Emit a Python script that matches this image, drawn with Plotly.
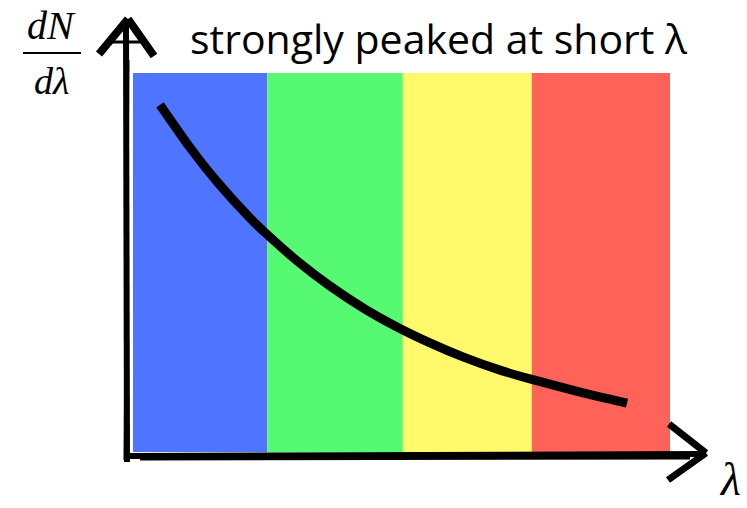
import plotly.graph_objects as go

# Spectral bands (wavelength in nm) and their fill colours
band_edges = [400, 500, 601, 697, 800]
band_colors = ["#4f74ff", "#55fa72", "#fffa6b", "#ff6258"]

# Photon spectrum dN/dλ, strongly peaked at short wavelength
wavelength = [420.1, 442.5, 462.6, 487.2, 498.3, 524.4, 546.7, 572.8,
              596.6, 621.2, 645.8, 673.4, 695.7, 733.0, 768.0]
dn_dlambda = [0.916, 0.803, 0.713, 0.617, 0.579, 0.498, 0.438, 0.377,
              0.330, 0.288, 0.251, 0.216, 0.193, 0.158, 0.129]

title_text = "strongly peaked at short λ"

W, H = 747, 508
L, R, T, B = 133, 77, 73, 56
PW, PH = W - L - R, H - T - B


def px(x):
    return (x - L) / PW


def py(y):
    return (H - B - y) / PH


fig = go.Figure()

for i, c in enumerate(band_colors):
    fig.add_shape(type="rect", xref="x", yref="y",
                  x0=band_edges[i], x1=band_edges[i + 1], y0=0, y1=1,
                  fillcolor=c, line_width=0, layer="below")

fig.add_trace(go.Scatter(x=wavelength, y=dn_dlambda, mode="lines",
                         line=dict(color="black", width=9, shape="spline", smoothing=0.6),
                         hoverinfo="skip", showlegend=False))

# hand-drawn style axes with arrow heads
axis_segments = [
    ((127, 462), (126, 24), 6),
    ((125, 460), (128, 60), 3),
    ((99, 54), (128, 19), 8),
    ((128, 19), (154, 56), 8),
    ((110, 42), (144, 42), 3),
    ((126, 456), (700, 454), 6),
    ((140, 459), (690, 458), 3),
    ((669, 424), (706, 453), 7),
    ((706, 453), (668, 480), 7),
    ((23, 53), (81, 53), 2),
]
for (x0, y0), (x1, y1), w in axis_segments:
    fig.add_shape(type="line", xref="paper", yref="paper",
                  x0=px(x0), y0=py(y0), x1=px(x1), y1=py(y1),
                  line=dict(color="black", width=w))

serif = "Liberation Serif"
fig.add_annotation(text="<i>dN</i>", x=px(51), y=py(25), xref="paper", yref="paper",
                   xanchor="center", yanchor="middle", showarrow=False,
                   font=dict(family=serif, size=40, color="black"))
fig.add_annotation(text="<i>dλ</i>", x=px(51), y=py(81), xref="paper", yref="paper",
                   xanchor="center", yanchor="middle", showarrow=False,
                   font=dict(family=serif, size=38, color="black"))
fig.add_annotation(text="<i>λ</i>", x=px(730), y=py(479), xref="paper", yref="paper",
                   xanchor="center", yanchor="middle", showarrow=False,
                   font=dict(family=serif, size=46, color="black"))
fig.add_annotation(text=title_text, x=px(438), y=py(38), xref="paper", yref="paper",
                   xanchor="center", yanchor="middle", showarrow=False,
                   font=dict(family="Open Sans", size=41, color="black"))

fig.update_layout(
    width=W, height=H,
    margin=dict(l=L, r=R, t=T, b=B),
    paper_bgcolor="white", plot_bgcolor="white",
    xaxis=dict(range=[band_edges[0], band_edges[-1]], visible=False, fixedrange=True),
    yaxis=dict(range=[0, 1], visible=False, fixedrange=True),
    showlegend=False,
)

fig.write_html("out.html")
